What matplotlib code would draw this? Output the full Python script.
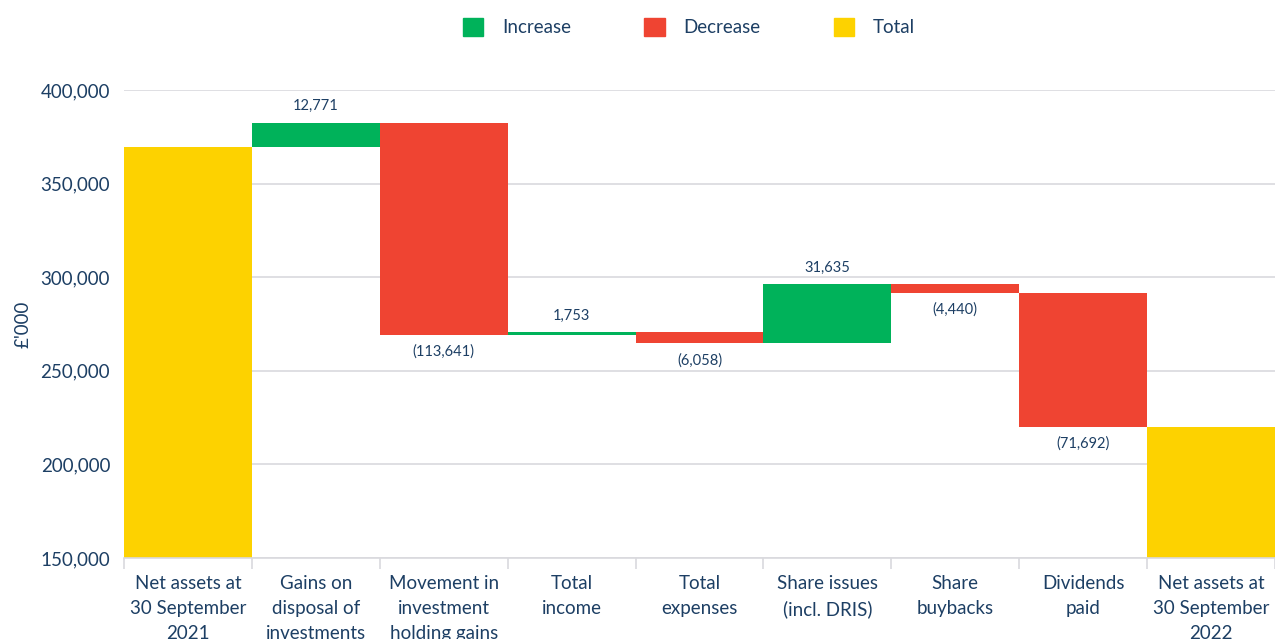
import matplotlib
matplotlib.use("Agg")
import matplotlib.pyplot as plt
from matplotlib.patches import Patch
import numpy as np

plt.rcParams['font.family'] = ['Lato', 'DejaVu Sans']

# data ('000 GBP)
categories = ["Net assets at\n30 September\n2021", "Gains on\ndisposal of\ninvestments",
              "Movement in\ninvestment\nholding gains", "Total\nincome", "Total\nexpenses",
              "Share issues\n(incl. DRIS)", "Share\nbuybacks", "Dividends\npaid",
              "Net assets at\n30 September\n2022"]
start_total = 369800
changes = [12771, -113641, 1753, -6058, 31635, -4440, -71692]
value_labels = ["12,771", "(113,641)", "1,753", "(6,058)", "31,635", "(4,440)", "(71,692)"]

GREEN = "#00b25a"
RED = "#ef4432"
YELLOW = "#fdd200"
NAVY = "#1d3f64"
GRID = "#d9d9de"

fig = plt.figure(figsize=(12.75, 6.39), dpi=100)
ax = fig.add_axes([124/1275, 1 - 558/639, 1 - 124/1275, (558 - 90)/639])

x = np.arange(len(categories))
ymin = 150000

# totals
end_total = start_total + sum(changes)
ax.bar(x[0], start_total - ymin, bottom=ymin, width=1.0, color=YELLOW, zorder=2)
ax.bar(x[-1], end_total - ymin, bottom=ymin, width=1.0, color=YELLOW, zorder=2)

# changes
level = start_total
for i, (c, lab) in enumerate(zip(changes, value_labels)):
    xi = x[i + 1]
    col = GREEN if c > 0 else RED
    ax.bar(xi, abs(c), bottom=min(level, level + c), width=1.0, color=col, zorder=2)
    off = 12 if c > 0 else -12
    ax.annotate(lab, (xi, level + c), xytext=(0, off), textcoords="offset points",
                ha="center", va="center", fontsize=10.5, color=NAVY)
    level += c

ax.set_xlim(-0.5, 8.45)
ax.set_ylim(ymin, 400000)
ax.set_yticks(np.arange(150000, 400001, 50000))
ax.yaxis.set_major_formatter(matplotlib.ticker.FuncFormatter(lambda v, p: f"{int(v):,}"))
ax.grid(axis="y", color=GRID, linewidth=1.2, zorder=0)
ax.set_axisbelow(True)

ax.set_xticks(x)
ax.set_xticklabels(categories, fontsize=13.5, color=NAVY, linespacing=1.6)
ax.set_xticks(np.arange(-0.5, len(categories)), minor=True)
ax.tick_params(axis="x", which="major", length=0, pad=12)
ax.tick_params(axis="x", which="minor", length=8, color=GRID, width=1.2)
ax.tick_params(axis="y", length=0, labelsize=13.5, labelcolor=NAVY, pad=10)

for s in ["top", "right", "left"]:
    ax.spines[s].set_visible(False)
ax.spines["bottom"].set_color(GRID)
ax.spines["bottom"].set_linewidth(1.2)

ax.set_ylabel("£'000", fontsize=13.5, color=NAVY, labelpad=6)

handles = [Patch(color=GREEN, label="Increase"), Patch(color=RED, label="Decrease"),
           Patch(color=YELLOW, label="Total")]
leg = fig.legend(handles=handles, loc="center", bbox_to_anchor=(689/1275, 1 - 27/639), ncol=3,
                 frameon=False, fontsize=13.5, handlelength=1.1, handleheight=1.1,
                 columnspacing=3.9, handletextpad=1.0)
for t in leg.get_texts():
    t.set_color(NAVY)

fig.savefig("out.png", dpi=100)
